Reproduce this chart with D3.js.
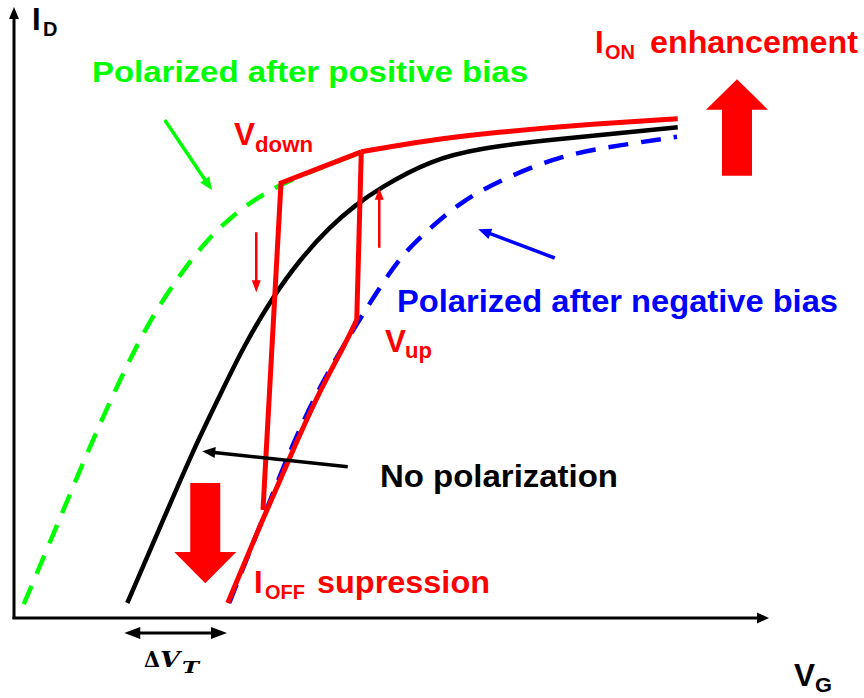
<!DOCTYPE html>
<html>
<head>
<meta charset="utf-8">
<script src="https://cdn.jsdelivr.net/npm/d3@7"></script>
<style>
  html, body { margin: 0; padding: 0; background: #fff; }
  svg { display: block; }
  text { font-family: "Liberation Sans", Arial, sans-serif; font-weight: bold; }
</style>
</head>
<body>
<svg id="chart" width="864" height="698"></svg>
<script>
// ---- data (V_G, I_D in arbitrary units) ----
const greenCurve = [[0.13,0.23],[0.55,1.47],[0.99,2.8],[1.41,3.97],[1.81,4.97],[2.21,5.72],[2.61,6.37],[3.08,6.88],[3.55,7.23],[4.08,7.5],[4.61,7.75]];
const blackCurve = [[1.51,0.25],[1.95,1.52],[2.39,2.8],[2.75,3.72],[3.05,4.5],[3.45,5.35],[3.81,5.97],[4.21,6.52],[4.55,6.88],[4.88,7.17],[5.55,7.63],[6.21,7.83],[7.15,7.97],[8.08,8.08],[8.85,8.18]];
const blueCurve = [[2.87,0.25],[3.31,1.63],[3.68,2.8],[4.08,3.88],[4.52,4.8],[4.88,5.52],[5.19,6.08],[5.55,6.5],[5.95,6.93],[6.48,7.3],[7.31,7.72],[8.08,7.88],[8.84,8.02]];
const redRise = [[2.85,0.25],[3.31,1.63],[3.72,2.8],[4.08,3.8],[4.41,4.55],[4.57,4.97]];
const redJump = [[4.57,4.97],[4.63,7.75]];
const redTop = [[4.63,7.77],[5.55,7.97],[6.48,8.1],[7.55,8.22],[8.85,8.32]];
const redKnee = [[3.32,1.8],[3.56,7.25],[4.63,7.77]];
const smallArrows = [ {from:[3.23,6.43], to:[3.23,5.43]}, {from:[4.87,6.17], to:[4.87,7.17]} ];
const bigArrows = [ {x:9.64, base:7.37, neck:8.47, tip:8.98}, {x:2.55, base:2.25, neck:1.1, tip:0.58} ];
const pointers = [
  {from:[2.01,8.3], to:[2.64,7.13], color:"#00ff00"},
  {from:[7.21,6.0], to:[6.19,6.48], color:"#0000ff"},
  {from:[4.45,2.52], to:[2.51,2.78], color:"#000000"}
];
const deltaVT = [1.47, 2.84];

// ---- scales ----
const svg = d3.select("#chart");
const x = d3.scaleLinear().domain([0,10]).range([14,764]);
const y = d3.scaleLinear().domain([0,10]).range([618,18]);

const GREEN = "#00ff00", BLUE = "#0000ff", RED = "#ff0000", BLACK = "#000000";

// ---- axes ----
const ax = svg.append("g");
ax.append("line").attr("x1", 14).attr("y1", 619).attr("x2", 14).attr("y2", 16)
  .attr("stroke", BLACK).attr("stroke-width", 3);
ax.append("path").attr("d", "M14,7 L9,19 L19,19 Z").attr("fill", BLACK);
ax.append("line").attr("x1", 12.5).attr("y1", 618).attr("x2", 760).attr("y2", 618)
  .attr("stroke", BLACK).attr("stroke-width", 3);
ax.append("path").attr("d", "M769,618 L757,612.5 L757,623.5 Z").attr("fill", BLACK);

// ---- curves ----
const smooth = d3.line().x(d => x(d[0])).y(d => y(d[1])).curve(d3.curveBasis);
const straight = d3.line().x(d => x(d[0])).y(d => y(d[1]));

svg.append("path").attr("d", smooth(greenCurve)).attr("fill","none")
  .attr("stroke", GREEN).attr("stroke-width", 4.5).attr("stroke-dasharray","20,13");
svg.append("path").attr("d", smooth(blueCurve)).attr("fill","none")
  .attr("stroke", BLUE).attr("stroke-width", 4.5).attr("stroke-dasharray","20,13");
svg.append("path").attr("d", smooth(blackCurve)).attr("fill","none")
  .attr("stroke", BLACK).attr("stroke-width", 4.5);

const redG = svg.append("g").attr("fill","none").attr("stroke", RED).attr("stroke-width", 5)
  .attr("stroke-linejoin","miter");
redG.append("path").attr("d", smooth(redRise));
redG.append("path").attr("d", straight(redJump));
redG.append("path").attr("d", smooth(redTop));
redG.append("path").attr("d", straight(redKnee));

// ---- arrow helper ----
function arrow(g, p1, p2, color, width, headLen, headW) {
  const x1 = x(p1[0]), y1 = y(p1[1]), x2 = x(p2[0]), y2 = y(p2[1]);
  const dx = x2 - x1, dy = y2 - y1, L = Math.hypot(dx, dy);
  const ux = dx / L, uy = dy / L;
  const bx = x2 - ux * headLen, by = y2 - uy * headLen;
  g.append("line").attr("x1", x1).attr("y1", y1).attr("x2", bx + ux*1).attr("y2", by + uy*1)
    .attr("stroke", color).attr("stroke-width", width);
  g.append("path").attr("d", `M${x2},${y2} L${bx - uy*headW/2},${by + ux*headW/2} L${bx + uy*headW/2},${by - ux*headW/2} Z`)
    .attr("fill", color);
}
const ag = svg.append("g");
pointers.forEach(p => arrow(ag, p.from, p.to, p.color, 3.5, 13, 11));
smallArrows.forEach(p => arrow(ag, p.from, p.to, RED, 2.5, 12, 9));

// big block arrows
bigArrows.forEach(a => {
  const cx = x(a.x), yb = y(a.base), yn = y(a.neck), yt = y(a.tip);
  const sw = 15, hw = 31;
  svg.append("path").attr("fill", RED)
    .attr("d", `M${cx-sw},${yb} L${cx-sw},${yn} L${cx-hw},${yn} L${cx},${yt} L${cx+hw},${yn} L${cx+sw},${yn} L${cx+sw},${yb} Z`);
});

// ΔV_T double arrow
const dy0 = 633;
const dxa = x(deltaVT[0]), dxb = x(deltaVT[1]);
svg.append("line").attr("x1", dxa + 10).attr("x2", dxb - 10).attr("y1", dy0).attr("y2", dy0)
  .attr("stroke", BLACK).attr("stroke-width", 3);
svg.append("path").attr("fill", BLACK).attr("d", `M${dxa},${dy0} L${dxa+16},${dy0-6} L${dxa+16},${dy0+6} Z`);
svg.append("path").attr("fill", BLACK).attr("d", `M${dxb},${dy0} L${dxb-16},${dy0-6} L${dxb-16},${dy0+6} Z`);

// ---- text ----
function label(t, px, py, size, color, len) {
  const e = svg.append("text").attr("x", px).attr("y", py).attr("font-size", size).attr("fill", color).text(t);
  if (len) e.attr("textLength", len).attr("lengthAdjust", "spacingAndGlyphs");
  return e;
}
// I_D
label("I", 32, 30, 31, BLACK);
label("D", 43, 36, 20, BLACK);
// V_G
label("V", 794, 686, 31, BLACK, 21);
label("G", 815, 692, 21, BLACK, 17);
// green label
label("Polarized after positive bias", 92, 82, 30, GREEN, 436);
// blue label
label("Polarized after negative bias", 397, 312, 31, BLUE, 441);
// No polarization
label("No polarization", 380, 487, 31, BLACK, 238);
// V_down
label("V", 234, 145, 31, RED, 21);
label("down", 255, 152, 22, RED, 58);
// V_up
label("V", 385, 352, 31, RED, 21);
label("up", 405, 358, 22, RED, 27);
// I_ON enhancement
label("I", 595, 53, 31, RED);
label("ON", 605, 59, 20, RED, 30);
label("enhancement", 650, 53, 31, RED, 208);
// I_OFF supression
label("I", 254, 593, 31, RED);
label("OFF", 265, 599, 20, RED, 40);
label("supression", 317, 593, 31, RED, 173);
// ΔV_T
const serif = "'DejaVu Serif', serif";
svg.append("text").attr("x", 144).attr("y", 667).attr("font-size", 22)
  .style("font-family", serif).attr("fill", BLACK).attr("textLength", 16).attr("lengthAdjust","spacingAndGlyphs").text("Δ");
svg.append("text").attr("x", 160).attr("y", 667).attr("font-size", 23).attr("font-style","italic")
  .style("font-family", serif).attr("fill", BLACK).attr("textLength", 20).attr("lengthAdjust","spacingAndGlyphs").text("V");
svg.append("text").attr("x", 182).attr("y", 673).attr("font-size", 17).attr("font-style","italic")
  .style("font-family", serif).attr("fill", BLACK).attr("textLength", 17).attr("lengthAdjust","spacingAndGlyphs").text("T");
</script>
</body>
</html>
